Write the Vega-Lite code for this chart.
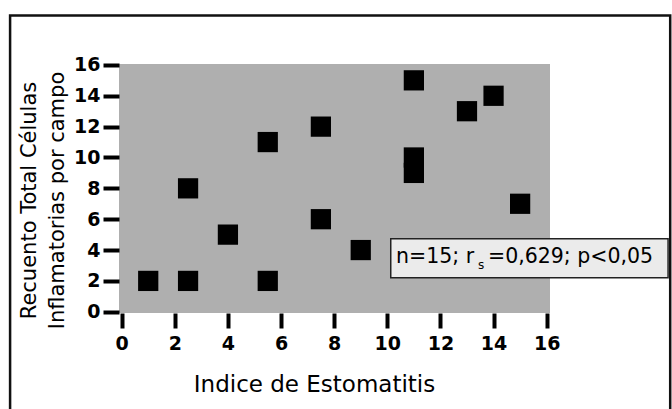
{
  "$schema": "https://vega.github.io/schema/vega-lite/v6.json",
  "width": 431,
  "height": 249,
  "autosize": {"type": "none"},
  "padding": {"left": 119, "top": 64, "right": 122, "bottom": 96},
  "background": "white",
  "config": {
    "view": {"fill": "#afafaf", "stroke": null},
    "font": "DejaVu Sans",
    "axis": {"labelOverlap": false, "labelFlush": false, "labelBound": false}
  },
  "datasets": {
    "points": [
      {"x": 1, "y": 2}, {"x": 2.5, "y": 2}, {"x": 5.5, "y": 2}, {"x": 2.5, "y": 8},
      {"x": 4, "y": 5}, {"x": 5.5, "y": 11}, {"x": 7.5, "y": 12}, {"x": 7.5, "y": 6},
      {"x": 9, "y": 4}, {"x": 11, "y": 15}, {"x": 11, "y": 10}, {"x": 11, "y": 9},
      {"x": 13, "y": 13}, {"x": 14, "y": 14}, {"x": 15, "y": 7}
    ],
    "frame": [{"x": -4.2, "x2": 20.65, "y": 19.2, "y2": -7}],
    "box": [{"x": 10.13, "x2": 20.57, "y": 4.74, "y2": 2.21}],
    "labelMain": [{"x": 10.33, "y": 3.18, "t": "n=15; r"}],
    "labelSub": [{"x": 13.53, "y": 2.75, "t": "s"}],
    "labelRest": [{"x": 13.79, "y": 3.18, "t": "=0,629; p<0,05"}]
  },
  "encoding": {
    "x": {
      "field": "x", "type": "quantitative",
      "scale": {"domain": [-0.1, 16.125], "nice": false, "zero": false},
      "axis": {
        "values": [0, 2, 4, 6, 8, 10, 12, 14, 16], "tickCount": 9,
        "grid": false, "domain": false,
        "tickSize": 15, "tickWidth": 4, "tickColor": "black",
        "labelFont": "DejaVu Sans", "labelFontWeight": "bold", "labelFontSize": 19,
        "labelColor": "black", "labelPadding": 6, "labelFlush": false, "labelOverlap": false,
        "title": "Indice de Estomatitis",
        "titleFont": "DejaVu Sans", "titleFontSize": 23, "titleFontWeight": "normal",
        "titleColor": "black", "titlePadding": 20, "titleX": 195
      }
    },
    "y": {
      "field": "y", "type": "quantitative",
      "scale": {"domain": [-0.08, 16.06], "nice": false, "zero": false},
      "axis": {
        "values": [0, 2, 4, 6, 8, 10, 12, 14, 16], "tickCount": 9,
        "grid": false, "domain": false,
        "tickSize": 16, "tickWidth": 4, "tickColor": "black",
        "labelFont": "DejaVu Sans", "labelFontWeight": "bold", "labelFontSize": 19,
        "labelColor": "black", "labelPadding": 3, "labelFlush": false, "labelOverlap": false,
        "title": ["Recuento Total Células", "Inflamatorias por campo"],
        "titleFont": "DejaVu Sans", "titleFontSize": 21, "titleFontWeight": "normal",
        "titleColor": "black", "titlePadding": 6, "titleLineHeight": 28, "titleY": 136
      }
    }
  },
  "layer": [
    {
      "data": {"name": "points"},
      "mark": {"type": "point", "shape": "square", "filled": true, "color": "black", "opacity": 1, "size": 410}
    },
    {
      "data": {"name": "frame"},
      "mark": {"type": "rect", "fill": "transparent", "stroke": "#111", "strokeWidth": 2.5},
      "encoding": {
        "x2": {"field": "x2"},
        "y2": {"field": "y2"}
      }
    },
    {
      "data": {"name": "box"},
      "mark": {"type": "rect", "fill": "#ebebeb", "stroke": "#222", "strokeWidth": 1.5},
      "encoding": {
        "x2": {"field": "x2"},
        "y2": {"field": "y2"}
      }
    },
    {
      "data": {"name": "labelMain"},
      "mark": {"type": "text", "align": "left", "baseline": "alphabetic", "fontSize": 20.5, "color": "black", "font": "DejaVu Sans"},
      "encoding": {"text": {"field": "t"}}
    },
    {
      "data": {"name": "labelSub"},
      "mark": {"type": "text", "align": "center", "baseline": "alphabetic", "fontSize": 12, "color": "black", "font": "DejaVu Sans"},
      "encoding": {"text": {"field": "t"}}
    },
    {
      "data": {"name": "labelRest"},
      "mark": {"type": "text", "align": "left", "baseline": "alphabetic", "fontSize": 20.5, "color": "black", "font": "DejaVu Sans"},
      "encoding": {"text": {"field": "t"}}
    }
  ]
}
